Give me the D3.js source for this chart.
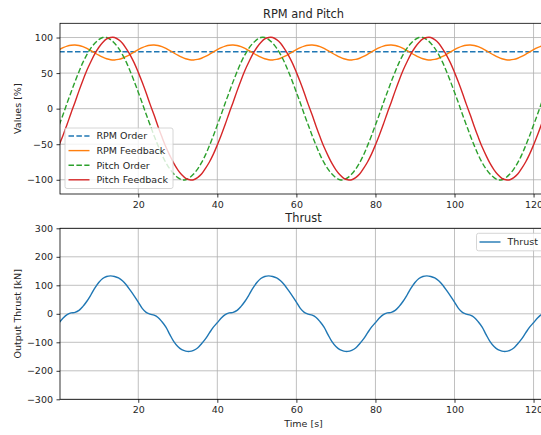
<!DOCTYPE html>
<html><head><meta charset="utf-8">
<script src="https://cdn.jsdelivr.net/npm/d3@7/dist/d3.min.js"></script>
<style>
body{margin:0;background:#fff}
svg{display:block}
text{font-family:"DejaVu Sans",sans-serif;fill:#262626}
</style>
</head><body>
<svg id="c" width="541" height="435"></svg>
<script>
// ---- data ----
const time = [0,1,2,3,4,5,6,7,8,9,10,11,12,13,14,15,16,17,18,19,20,21,22,23,24,25,26,27,28,29,30,31,32,33,34,35,36,37,38,39,
40,41,42,43,44,45,46,47,48,49,50,51,52,53,54,55,56,57,58,59,60,61,62,63,64,65,66,67,68,69,70,71,72,73,74,75,76,77,78,79,
80,81,82,83,84,85,86,87,88,89,90,91,92,93,94,95,96,97,98,99,100,101,102,103,104,105,106,107,108,109,110,111,112,113,114,115,116,117,118,119,
120,121,122,123];
const rpmOrder = 80;
const rpmFeedback = [82.9,85.7,87.9,89.2,89.5,88.8,87.1,84.6,81.6,78.3,75.1,72.3,70.1,68.8,68.5,69.2,70.9,73.4,76.4,79.7,
82.9,85.7,87.9,89.2,89.5,88.8,87.1,84.6,81.6,78.3,75.1,72.3,70.1,68.8,68.5,69.2,70.9,73.4,76.4,79.7,
82.9,85.7,87.9,89.2,89.5,88.8,87.1,84.6,81.6,78.3,75.1,72.3,70.1,68.8,68.5,69.2,70.9,73.4,76.4,79.7,
82.9,85.7,87.9,89.2,89.5,88.8,87.1,84.6,81.6,78.3,75.1,72.3,70.1,68.8,68.5,69.2,70.9,73.4,76.4,79.7,
82.9,85.7,87.9,89.2,89.5,88.8,87.1,84.6,81.6,78.3,75.1,72.3,70.1,68.8,68.5,69.2,70.9,73.4,76.4,79.7,
82.9,85.7,87.9,89.2,89.5,88.8,87.1,84.6,81.6,78.3,75.1,72.3,70.1,68.8,68.5,69.2,70.9,73.4,76.4,79.7,
82.9,85.7,87.9,89.2];
const pitchOrder = [-23,-8,8,23,38,52,65,76,85,92,97,100,100,97,92,85,76,65,52,38,23,8,-8,-23,-38,-52,-65,-76,-85,-92,-97,-100,-100,-97,-92,-85,-76,-65,-52,-38,
-23,-8,8,23,38,52,65,76,85,92,97,100,100,97,92,85,76,65,52,38,23,8,-8,-23,-38,-52,-65,-76,-85,-92,-97,-100,-100,-97,-92,-85,-76,-65,-52,-38,
-23,-8,8,23,38,52,65,76,85,92,97,100,100,97,92,85,76,65,52,38,23,8,-8,-23,-38,-52,-65,-76,-85,-92,-97,-100,-100,-97,-92,-85,-76,-65,-52,-38,
-23,-8,8,23];
const pitchFeedback = [-51,-37,-22,-6,9,25,40,54,66,77,86,93,98,100,100,97,92,84,75,64,51,37,22,6,-9,-25,-40,-54,-66,-77,-86,-93,-98,-100,-100,-97,-92,-84,-75,-64,
-51,-37,-22,-6,9,25,40,54,66,77,86,93,98,100,100,97,92,84,75,64,51,37,22,6,-9,-25,-40,-54,-66,-77,-86,-93,-98,-100,-100,-97,-92,-84,-75,-64,
-51,-37,-22,-6,9,25,40,54,66,77,86,93,98,100,100,97,92,84,75,64,51,37,22,6,-9,-25,-40,-54,-66,-77,-86,-93,-98,-100,-100,-97,-92,-84,-75,-64,
-51,-37,-22,-6];
const thrust = [-31,-15,-3,3,5,12,26,44,66,90,110,124,131,133,131,126,116,101,82,62,41,19,5,-1,-5,-13,-28,-47,-73,-98,-115,-126,-131,-132,-128,-120,-105,-88,-67,-47,
-31,-15,-3,3,5,12,26,44,66,90,110,124,131,133,131,126,116,101,82,62,41,19,5,-1,-5,-13,-28,-47,-73,-98,-115,-126,-131,-132,-128,-120,-105,-88,-67,-47,
-31,-15,-3,3,5,12,26,44,66,90,110,124,131,133,131,126,116,101,82,62,41,19,5,-1,-5,-13,-28,-47,-73,-98,-115,-126,-131,-132,-128,-120,-105,-88,-67,-47,
-31,-15,-3,3];
const xTicks = [20,40,60,80,100,120];
const yTicksTop = [-100,-50,0,50,100];
const yTicksBottom = [-300,-200,-100,0,100,200,300];
const topSeries = ["RPM Order","RPM Feedback","Pitch Order","Pitch Feedback"];
const colors = ["#1f77b4","#ff7f0e","#2ca02c","#d62728"];

// ---- layout ----
const svg = d3.select("#c");
const L = 60, R = 547;
const top1 = 23.3, bot1 = 194;
const top2 = 228.3, bot2 = 399.3;
const x = d3.scaleLinear().domain([0.2, 123.4]).range([L, R]);
const y1 = d3.scaleLinear().domain([-120, 120]).range([bot1, top1]);
const y2 = d3.scaleLinear().domain([-300, 300]).range([bot2, top2]);
const fs = 9.5;

const defs = svg.append("defs");
defs.append("clipPath").attr("id","cp1").append("rect").attr("x",L).attr("y",top1).attr("width",R-L).attr("height",bot1-top1);
defs.append("clipPath").attr("id","cp2").append("rect").attr("x",L).attr("y",top2).attr("width",R-L).attr("height",bot2-top2);

function panel(y, yt, top, bot, clip) {
  const g = svg.append("g");
  // grid
  g.append("g").selectAll("line").data(xTicks).join("line")
    .attr("x1", d=>x(d)).attr("x2", d=>x(d)).attr("y1", top).attr("y2", bot)
    .attr("stroke","#b0b0b0").attr("stroke-width",0.8);
  g.append("g").selectAll("line").data(yt).join("line")
    .attr("x1", L).attr("x2", R).attr("y1", d=>y(d)).attr("y2", d=>y(d))
    .attr("stroke","#b0b0b0").attr("stroke-width",0.8);
  const lines = g.append("g").attr("clip-path", `url(#${clip})`);
  // axes
  const ax = g.append("g").attr("transform",`translate(0,${bot})`)
    .call(d3.axisBottom(x).tickValues(xTicks).tickFormat(d3.format("d")).tickSize(3.5).tickPadding(3.5).tickSizeOuter(0));
  const ay = g.append("g").attr("transform",`translate(${L},0)`)
    .call(d3.axisLeft(y).tickValues(yt).tickFormat(d=>d<0?"\u2212"+Math.abs(d):d).tickSize(3.5).tickPadding(3.5).tickSizeOuter(0));
  [ax, ay].forEach(a => {
    a.select(".domain").remove();
    a.selectAll("line").attr("stroke","#000").attr("stroke-width",0.8);
    a.selectAll("text").attr("font-size", fs).attr("fill","#262626").style("font-family","DejaVu Sans");
  });
  // spines
  g.append("rect").attr("x",L).attr("y",top).attr("width",R-L).attr("height",bot-top)
    .attr("fill","none").attr("stroke","#000").attr("stroke-width",0.8);
  return lines;
}

const line1 = (arr) => d3.line().x((d,i)=>x(time[i])).y(d=>y1(d)).curve(d3.curveCatmullRom)(arr);

const p1 = panel(y1, yTicksTop, top1, bot1, "cp1");
const dash = "5.5,2.4";
// RPM Order (constant)
p1.append("path").attr("d", d3.line().x(d=>x(d)).y(()=>y1(rpmOrder))([time[0], time[time.length-1]]))
  .attr("fill","none").attr("stroke",colors[0]).attr("stroke-width",1.4).attr("stroke-dasharray",dash);
p1.append("path").attr("d", line1(rpmFeedback)).attr("fill","none").attr("stroke",colors[1]).attr("stroke-width",1.4);
p1.append("path").attr("d", line1(pitchOrder)).attr("fill","none").attr("stroke",colors[2]).attr("stroke-width",1.4).attr("stroke-dasharray",dash);
p1.append("path").attr("d", line1(pitchFeedback)).attr("fill","none").attr("stroke",colors[3]).attr("stroke-width",1.4);

const p2 = panel(y2, yTicksBottom, top2, bot2, "cp2");
p2.append("path").attr("d", d3.line().x((d,i)=>x(time[i])).y(d=>y2(d)).curve(d3.curveCatmullRom)(thrust))
  .attr("fill","none").attr("stroke",colors[0]).attr("stroke-width",1.4);

// titles & labels
const cx = (L+R)/2;
svg.append("text").attr("x",cx).attr("y",17.5).attr("text-anchor","middle").attr("font-size",11.4).text("RPM and Pitch");
svg.append("text").attr("x",cx).attr("y",222).attr("text-anchor","middle").attr("font-size",11.4).text("Thrust");
svg.append("text").attr("transform",`translate(21,${(top1+bot1)/2}) rotate(-90)`).attr("text-anchor","middle").attr("font-size",fs).text("Values [%]");
svg.append("text").attr("transform",`translate(21,${(top2+bot2)/2}) rotate(-90)`).attr("text-anchor","middle").attr("font-size",fs).text("Output Thrust [kN]");
svg.append("text").attr("x",cx).attr("y",427).attr("text-anchor","middle").attr("font-size",fs).text("Time [s]");

// legend top
const lg = svg.append("g");
lg.append("rect").attr("x",65).attr("y",128).attr("width",108).attr("height",60.5).attr("rx",2)
  .attr("fill","#fff").attr("fill-opacity",0.8).attr("stroke","#cccccc").attr("stroke-width",0.8);
topSeries.forEach((s,i)=>{
  const yy = 136 + i*14.6;
  lg.append("line").attr("x1",68.5).attr("x2",89.5).attr("y1",yy).attr("y2",yy)
    .attr("stroke",colors[i]).attr("stroke-width",1.4).attr("stroke-dasharray", (i===0||i===2)?dash:null);
  lg.append("text").attr("x",96.5).attr("y",yy).attr("dy","0.35em").attr("font-size",fs).text(s);
});
// legend bottom
const lg2 = svg.append("g");
lg2.append("rect").attr("x",476.5).attr("y",233.3).attr("width",66).attr("height",17.5).attr("rx",2)
  .attr("fill","#fff").attr("fill-opacity",0.8).attr("stroke","#cccccc").attr("stroke-width",0.8);
lg2.append("line").attr("x1",479.5).attr("x2",500.5).attr("y1",242).attr("y2",242).attr("stroke",colors[0]).attr("stroke-width",1.4);
lg2.append("text").attr("x",507.5).attr("y",242).attr("dy","0.35em").attr("font-size",fs).text("Thrust");
</script>
</body></html>
